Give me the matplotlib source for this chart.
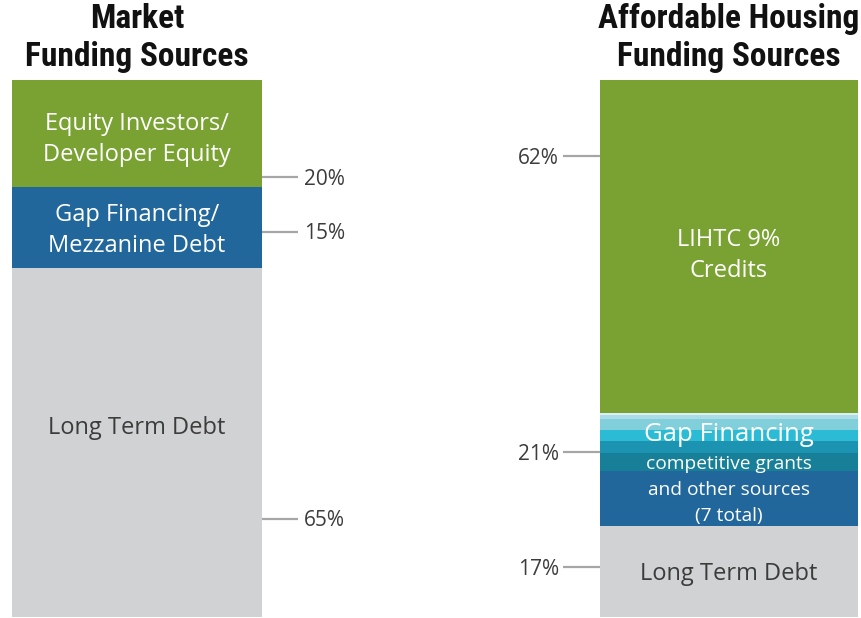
import matplotlib
matplotlib.use("Agg")
import matplotlib.pyplot as plt

# ---- data ----
bars = ["Market Funding Sources", "Affordable Housing Funding Sources"]
market_labels = ["Long Term Debt", "Gap Financing/\nMezzanine Debt", "Equity Investors/\nDeveloper Equity"]
market_values = [65, 15, 20]
affordable_labels = ["Long Term Debt", "Gap Financing", "LIHTC 9%\nCredits"]
affordable_values = [17, 21, 62]
# the 7 gap-financing sources (bottom to top), summing to ~21%
gap_sources = [10.2, 3.4, 2.2, 2.0, 2.0, 0.8, 0.4]
market_pct_text = ["65%", "15%", "20%"]
affordable_pct_text = ["17%", "21%", "62%"]

# ---- style ----
GREEN = "#79a232"
BLUE = "#22679b"
GRAY = "#d1d2d4"
gap_colors = ["#22679b", "#177f97", "#1c93b1", "#2cbbd5", "#80cfdb", "#acdde7", "#d8eff4"]
TXT = "#3c3c3c"
LINE = "#a6a6a6"

W, H = 862, 618
fig = plt.figure(figsize=(W / 100, H / 100), dpi=100)
ax = fig.add_axes([0, 1 / H, 1, 537 / H])
ax.set_xlim(-137 / 592, 1 + 133 / 592)
ax.set_ylim(0, 100)
ax.axis("off")

bw0 = 250 / 592
bw1 = 258 / 592
body_font = ["Open Sans", "DejaVu Sans"]
title_font = ["Liberation Sans Narrow", "Roboto Condensed", "DejaVu Sans"]

# market bar
bottom = 0
mcolors = [GRAY, BLUE, GREEN]
for v, c in zip(market_values, mcolors):
    ax.bar(0, v, bottom=bottom, width=bw0, color=c, linewidth=0)
    bottom += v

# affordable bar
ax.bar(1, affordable_values[0], bottom=0, width=bw1, color=GRAY, linewidth=0)
b = affordable_values[0]
for v, c in zip(gap_sources, gap_colors):
    ax.bar(1, v, bottom=b, width=bw1, color=c, linewidth=0)
    b += v
ax.bar(1, affordable_values[2], bottom=sum(affordable_values[:2]), width=bw1, color=GREEN, linewidth=0)

# in-bar labels
ax.text(0, 88.95, market_labels[2], ha="center", va="center", color="white",
        fontsize=17, family=body_font, linespacing=1.4)
ax.text(0, 72.0, market_labels[1], ha="center", va="center", color="white",
        fontsize=17, family=body_font, linespacing=1.4)
ax.text(0, 35.15, market_labels[0], ha="center", va="center", color=TXT,
        fontsize=17, family=body_font)

ax.text(1, 67.33, affordable_labels[2], ha="center", va="center", color="white",
        fontsize=17, family=body_font, linespacing=1.4)
ax.text(1, 34.05, affordable_labels[1], ha="center", va="center", color="white",
        fontsize=18.5, family=body_font)
ax.text(1, 23.65, "competitive grants\nand other sources\n(7 total)", ha="center", va="center",
        color="white", fontsize=13.8, family=body_font, linespacing=1.54)
ax.text(1, 8.04, affordable_labels[0], ha="center", va="center", color=TXT,
        fontsize=17, family=body_font)

# percentage call-outs
left_edge_r = 0 + bw0 / 2
right_edge_l = 1 - bw1 / 2
mk_y = [18.25, 71.7, 81.9]
for y, t in zip(mk_y, market_pct_text):
    ax.plot([left_edge_r, left_edge_r + 36 / 592], [y, y], color=LINE, lw=1.6, solid_capstyle="butt")
    ax.text(left_edge_r + 42 / 592, y - 0.37, t, ha="left", va="center", color=TXT,
            fontsize=15, family=body_font)
af_y = [9.3, 30.7, 85.8]
for y, t in zip(af_y, affordable_pct_text):
    ax.plot([right_edge_l - 37 / 592, right_edge_l], [y, y], color=LINE, lw=1.6, solid_capstyle="butt")
    ax.text(right_edge_l - 41 / 592, y - 0.37, t, ha="right", va="center", color=TXT,
            fontsize=15, family=body_font)

# titles
tkw = dict(ha="center", va="center", fontsize=24, fontweight="bold",
           family=title_font, color="#111111")
fig.text(137 / W, 1 - 19 / H, "Market", **tkw)
fig.text(137 / W, 1 - 57 / H, "Funding Sources", **tkw)
fig.text(729 / W, 1 - 19 / H, "Affordable Housing", **tkw)
fig.text(729 / W, 1 - 57 / H, "Funding Sources", **tkw)

fig.savefig("out.png", dpi=100)
